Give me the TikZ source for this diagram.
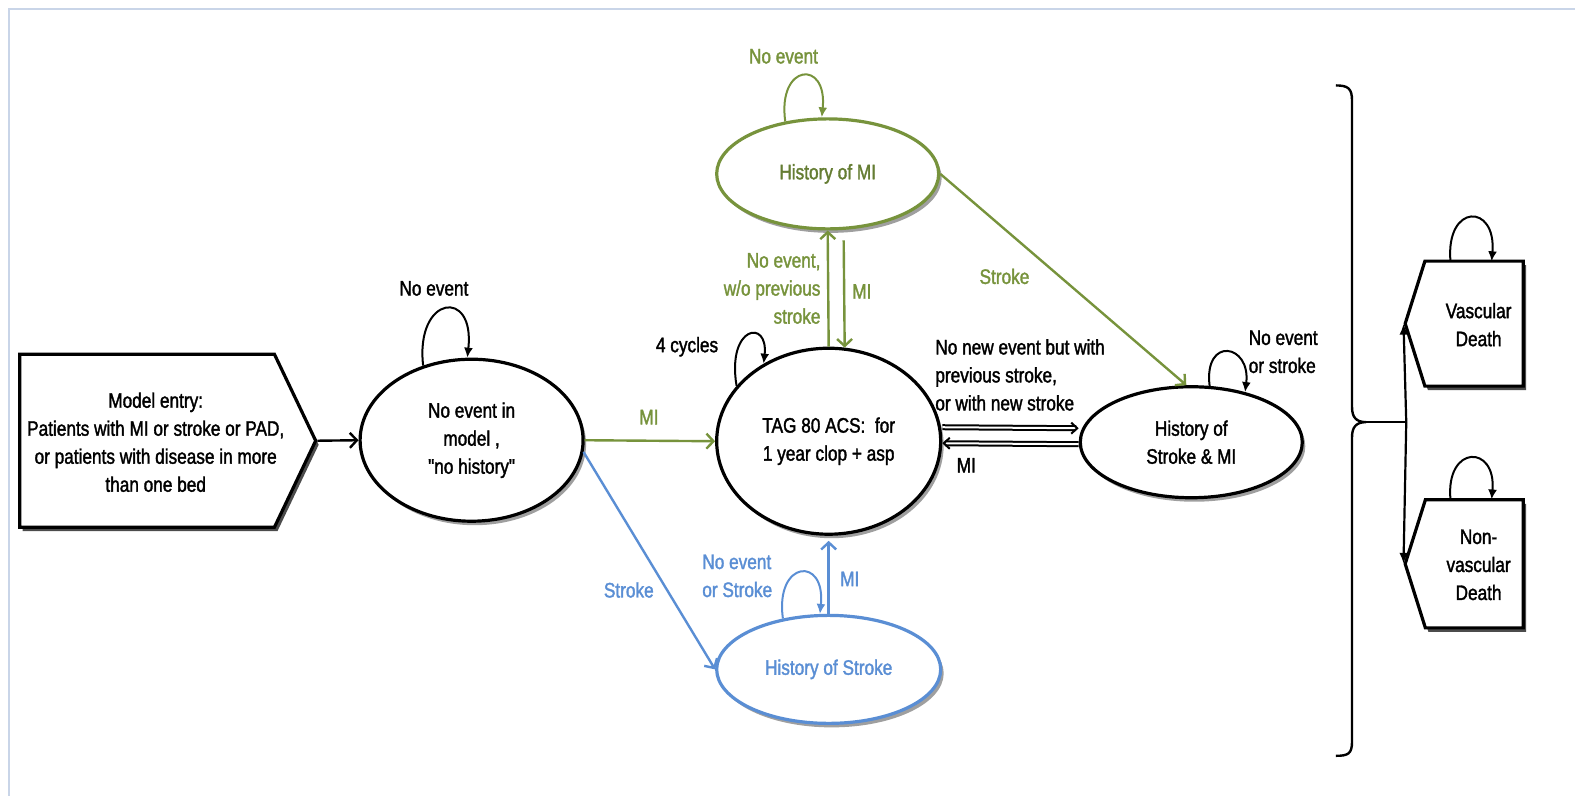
\documentclass[tikz,border=0pt]{standalone}
\usepackage{fontspec}
\setmainfont{Liberation Sans}[FakeStretch=0.82, FakeBold=1.6, Ligatures=TeXOff]
\usetikzlibrary{arrows.meta,shapes.geometric,shapes.symbols,shadows}
\definecolor{mgreen}{HTML}{77933C}
\definecolor{mblue}{HTML}{5A8ED4}
\definecolor{framec}{HTML}{C9D5E8}
\begin{document}
\begin{tikzpicture}[x=1.00446pt,y=-1.00505pt,
  every node/.style={font=\fontsize{21}{28}\selectfont, inner sep=0pt, align=center},
  state/.style={ellipse, draw, line width=3.2pt, fill=white,
    drop shadow={shadow xshift=3pt, shadow yshift=-4pt, fill=gray!75, opacity=1}},
  boxst/.style={signal, draw, line width=3.2pt, fill=white, signal from=nowhere,
    drop shadow={shadow xshift=3pt, shadow yshift=-4pt, fill=black!70, opacity=1}},
  conn/.style={line width=2.4pt, -{Straight Barb[length=7pt,width=15pt,line width=2.4pt]}},
  loopst/.style={line width=2pt, -{Latex[length=10pt,width=9pt]}},
  dbl/.style={double, double distance=2pt, line width=2pt, -{Straight Barb[length=6pt,width=11pt,line width=2pt]}},
]
\useasboundingbox (0,0) rectangle (1568,792);
% frame
\draw[framec, line width=2pt] (8,8.5) -- (1568,8.5);
\draw[framec, line width=2pt] (8.5,8) -- (8.5,792);

% nodes
\node[boxst, signal to=east, signal pointer angle=129, minimum width=296pt, minimum height=173pt, anchor=west] (me) at (18,438.5) {};
\node (metext) at (155,440) {Model entry:\\Patients with MI or stroke or PAD,\\or patients with disease in more\\than one bed};
\node[state, minimum width=223pt, minimum height=162pt] (n1) at (469.5,438) {No event in\\model ,\\"no history"};
\node[state, minimum width=224pt, minimum height=186pt] (tag) at (825,439) {TAG 80 ACS:~ for\\1 year clop + asp};
\node[state, draw=mgreen, text=mgreen!85!black, minimum width=222pt, minimum height=110pt] (hmi) at (824,173) {History of MI};
\node[state, draw=mblue, text=mblue, minimum width=224pt, minimum height=108pt] (hs) at (825,666) {History of Stroke};
\node[state, minimum width=222pt, minimum height=111pt] (hsmi) at (1186,440) {History of\\Stroke \& MI};
\node[boxst, signal to=west, signal pointer angle=145, minimum width=118pt, minimum height=125pt, anchor=east] (vd) at (1518,322) {};
\node (vdtext) at (1472,323) {Vascular\\Death};
\node[boxst, signal to=west, signal pointer angle=145, minimum width=118pt, minimum height=128pt, anchor=east] (nvd) at (1518,561) {};
\node (nvdtext) at (1472,562) {Non-\\vascular\\Death};

% connectors
\draw[conn] (me.east) -- (n1.west);
\draw[conn, mgreen] (n1.east) -- (tag.west);
\draw[conn, mblue] (n1.-6) -- (hs.west);
\draw[conn, mgreen] (tag.north) -- (hmi.south);
\draw[conn, mgreen] ([xshift=16pt,yshift=-10pt]hmi.south) -- ([xshift=16pt,yshift=-1pt]tag.north);
\draw[conn, mblue] (hs.north) -- ([yshift=-5pt]tag.south);
\draw[conn, mgreen] (hmi.east) -- ([xshift=-5pt]hsmi.north);
\draw[dbl] ([yshift=14pt]tag.east) -- ([yshift=14pt]hsmi.west);
\draw[dbl] ([yshift=-2pt]hsmi.west) -- ([yshift=-2pt]tag.east);

% self loops
\draw[loopst] (n1.123) .. controls +(-8,-70) and +(8,-70) .. (n1.93);
\draw[loopst] (tag.149) .. controls +(-10,-60) and +(5,-45) .. (tag.130);
\draw[loopst, mgreen] (hmi.129) .. controls +(-8,-58) and +(6,-58) .. (hmi.96);
\draw[loopst, mblue] (hs.132) .. controls +(-8,-58) and +(6,-58) .. (hs.99);
\draw[loopst] (hsmi.72) .. controls +(-6,-50) and +(6,-48) .. (hsmi.43);
\draw[loopst] ([shift={(-74,-62)}]vd.east) .. controls +(-5,-58) and +(5,-58) .. ([shift={(-33,-62)}]vd.east);
\draw[loopst] ([shift={(-74,-64)}]nvd.east) .. controls +(-5,-55) and +(5,-55) .. ([shift={(-33,-64)}]nvd.east);

% brace and death connectors
\coordinate (bt) at (1360,420);
\coordinate (bj) at (1400,420);
\draw[line width=2.4pt] (1330,85) .. controls (1342,85) and (1346,88) .. (1346,100) -- (1346,405)
  .. controls (1346,415) and (1350,420) .. (bt)
  .. controls (1350,420) and (1346,425) .. (1346,435) -- (1346,738)
  .. controls (1346,750) and (1342,752) .. (1330,752);
\draw[line width=2.2pt] (bt) -- (bj);
\draw[line width=2.2pt, -{Latex[length=11pt,width=9pt]}] (bj) -- (vd.west);
\draw[line width=2.2pt, -{Latex[length=11pt,width=9pt]}] (bj) -- (nvd.west);

% labels
\node (l1) at (432,287) {No event};
\node (l2) at (684,345) {4 cycles};
\node[text=mgreen] (l3) at (780,56) {No event};
\node[text=mgreen, align=right, anchor=east] (l4) at (817,287) {No event,\\w/o previous\\stroke};
\node[text=mgreen] (l5) at (858,290) {MI};
\node[text=mgreen] (l6) at (1000,275) {Stroke};
\node[align=left, anchor=west] (l7) at (931,373) {No new event but with\\previous stroke,\\or with new stroke};
\node (l8) at (962,463) {MI};
\node[align=left, anchor=west] (l9) at (1243,350) {No event\\or stroke};
\node[text=mgreen] (l10) at (646,415) {MI};
\node[text=mblue] (l11) at (626,587) {Stroke};
\node[text=mblue, align=left, anchor=west] (l12) at (699,573) {No event\\or Stroke};
\node[text=mblue] (l13) at (846,576) {MI};
\end{tikzpicture}
\end{document}
